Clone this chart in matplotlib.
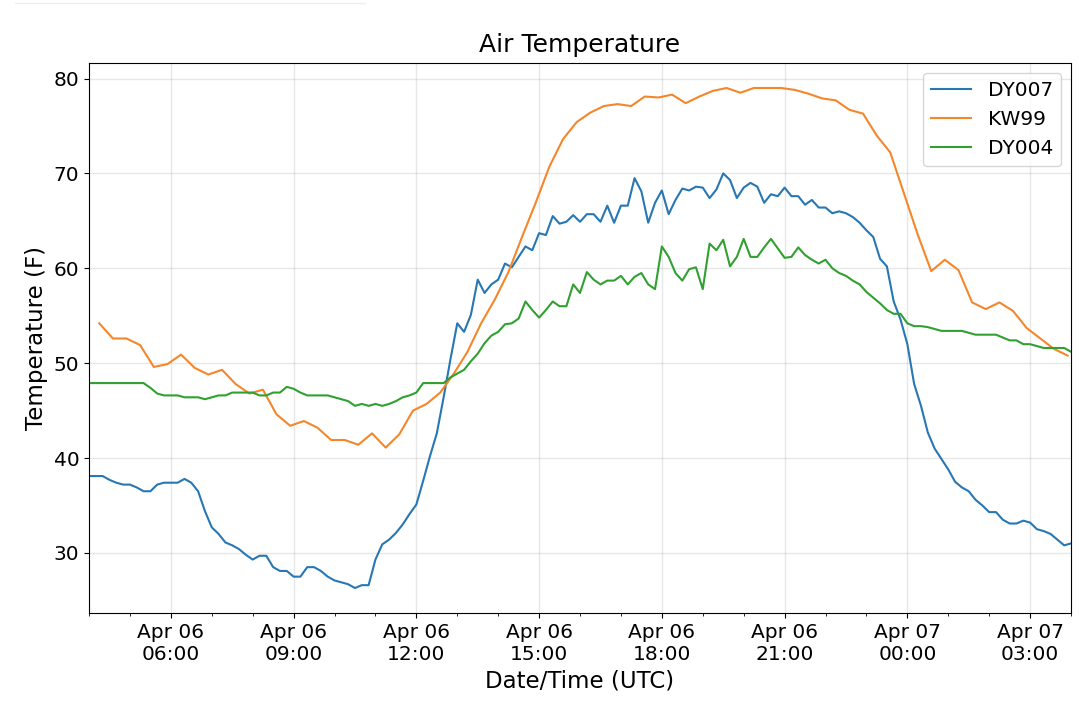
import numpy as np
import pandas as pd
import matplotlib
matplotlib.use("Agg")
import matplotlib.pyplot as plt
import matplotlib.dates as mdates
from matplotlib.lines import Line2D

# 10-minute station data (DY007, DY004) and 20-minute airport obs (KW99)
times_10min = pd.date_range("2019-04-06 04:00", "2019-04-07 04:00", freq="10min")
times_kw99 = pd.date_range("2019-04-06 04:15", periods=72, freq="20min")

dy007 = [
    38.1, 38.1, 38.1, 37.7, 37.4, 37.2, 37.2, 36.9, 36.5, 36.5,
    37.2, 37.4, 37.4, 37.4, 37.8, 37.4, 36.5, 34.4, 32.7, 32.0,
    31.1, 30.8, 30.4, 29.8, 29.3, 29.7, 29.7, 28.5, 28.1, 28.1,
    27.5, 27.5, 28.5, 28.5, 28.1, 27.5, 27.1, 26.9, 26.7, 26.3,
    26.6, 26.6, 29.3, 30.9, 31.4, 32.1, 33.0, 34.1, 35.1, 37.6,
    40.2, 42.6, 46.4, 50.4, 54.2, 53.3, 55.1, 58.8, 57.4, 58.3,
    58.8, 60.5, 60.1, 61.2, 62.3, 61.9, 63.7, 63.5, 65.5, 64.7,
    64.9, 65.6, 64.9, 65.7, 65.7, 64.9, 66.6, 64.8, 66.6, 66.6,
    69.5, 68.1, 64.8, 66.9, 68.2, 65.7, 67.2, 68.4, 68.2, 68.6,
    68.5, 67.4, 68.3, 70.0, 69.3, 67.4, 68.5, 69.0, 68.6, 66.9,
    67.8, 67.6, 68.5, 67.6, 67.6, 66.7, 67.2, 66.4, 66.4, 65.8,
    66.0, 65.8, 65.4, 64.8, 64.0, 63.3, 61.0, 60.2, 56.5, 54.6,
    52.0, 47.8, 45.5, 42.7, 41.0, 39.9, 38.8, 37.5, 36.9, 36.5,
    35.6, 35.0, 34.3, 34.3, 33.5, 33.1, 33.1, 33.4, 33.2, 32.5,
    32.3, 32.0, 31.4, 30.8, 31.0,
]

kw99 = [
    54.2, 52.6, 52.6, 51.9, 49.6, 49.9, 50.9, 49.5, 48.8, 49.3,
    47.8, 46.8, 47.2, 44.6, 43.4, 43.9, 43.2, 41.9, 41.9, 41.4,
    42.6, 41.1, 42.5, 45.0, 45.7, 46.9, 48.9, 51.2, 54.2, 56.7,
    59.6, 63.3, 66.9, 70.7, 73.6, 75.4, 76.4, 77.1, 77.3, 77.1,
    78.1, 78.0, 78.3, 77.4, 78.1, 78.7, 79.0, 78.5, 79.0, 79.0,
    79.0, 78.8, 78.4, 77.9, 77.7, 76.7, 76.3, 74.0, 72.2, 67.9,
    63.6, 59.7, 60.9, 59.8, 56.4, 55.7, 56.4, 55.5, 53.7, 52.6,
    51.5, 50.8,
]

dy004 = [
    47.9, 47.9, 47.9, 47.9, 47.9, 47.9, 47.9, 47.9, 47.9, 47.4,
    46.8, 46.6, 46.6, 46.6, 46.4, 46.4, 46.4, 46.2, 46.4, 46.6,
    46.6, 46.9, 46.9, 46.9, 46.9, 46.6, 46.6, 46.9, 46.9, 47.5,
    47.3, 46.9, 46.6, 46.6, 46.6, 46.6, 46.4, 46.2, 46.0, 45.5,
    45.7, 45.5, 45.7, 45.5, 45.7, 46.0, 46.4, 46.6, 46.9, 47.9,
    47.9, 47.9, 47.9, 48.5, 48.9, 49.3, 50.2, 51.0, 52.1, 52.9,
    53.3, 54.1, 54.2, 54.7, 56.5, 55.6, 54.8, 55.6, 56.5, 56.0,
    56.0, 58.3, 57.4, 59.6, 58.8, 58.3, 58.7, 58.7, 59.2, 58.3,
    59.1, 59.5, 58.3, 57.8, 62.3, 61.2, 59.5, 58.7, 59.9, 60.1,
    57.8, 62.6, 61.9, 63.0, 60.2, 61.2, 63.1, 61.2, 61.2, 62.2,
    63.1, 62.1, 61.1, 61.2, 62.2, 61.4, 60.9, 60.5, 60.9, 60.0,
    59.5, 59.2, 58.7, 58.3, 57.5, 56.9, 56.3, 55.6, 55.2, 55.2,
    54.2, 53.9, 53.9, 53.8, 53.6, 53.4, 53.4, 53.4, 53.4, 53.2,
    53.0, 53.0, 53.0, 53.0, 52.7, 52.4, 52.4, 52.0, 52.0, 51.8,
    51.6, 51.6, 51.6, 51.6, 51.2,
]

fig = plt.figure(figsize=(10.79, 7.11), dpi=100)
ax = fig.add_axes([0.0825, 0.1378, 0.9101, 0.7736])

ax.plot(times_10min, dy007, color="#2677b4", lw=1.5, label="DY007")
ax.plot(times_kw99, kw99, color="#f5862a", lw=1.5, label="KW99")
ax.plot(times_10min, dy004, color="#30a030", lw=1.5, label="DY004")

ax.set_xlim(times_10min[0], times_10min[-1])

ax.xaxis.set_major_locator(mdates.HourLocator(byhour=range(0, 24, 3)))
ax.xaxis.set_minor_locator(mdates.HourLocator())
ax.xaxis.set_major_formatter(mdates.DateFormatter("%b %d\n%H:%M"))
ax.set_yticks([30, 40, 50, 60, 70, 80])

ax.tick_params(axis="both", which="major", labelsize=14.5)
ax.grid(True, which="major", color="#b0b0b0", alpha=0.3, lw=1)

ax.set_title("Air Temperature", fontsize=18, pad=8)
ax.set_xlabel("Date/Time (UTC)", fontsize=16.5)
ax.set_ylabel("Temperature (F)", fontsize=16.5)
ax.legend(loc="upper right", fontsize=14.5)

# faint rule at the very top of the screenshot
fig.add_artist(Line2D([0.014, 0.338], [0.9958, 0.9958], transform=fig.transFigure,
                      color="#eeeeee", lw=1))

fig.savefig("out.png", dpi=100)
